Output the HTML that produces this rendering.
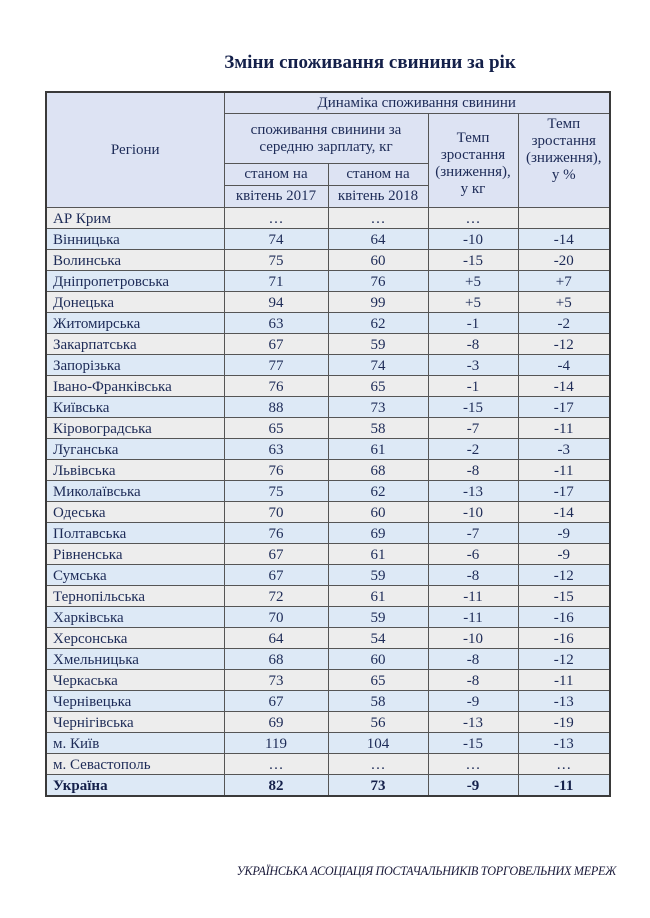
<!DOCTYPE html>
<html><head><meta charset="utf-8"><style>
body{margin:0;width:650px;height:918px;background:#fff;position:relative;font-family:"Liberation Serif",serif;color:#1d2b57;overflow:hidden}
.title{position:absolute;left:0;width:740px;top:52px;text-align:center;font-weight:bold;font-size:19px;color:#14204a}
table{position:absolute;left:45px;top:91px;border-collapse:collapse;border:2px solid #3a3a3a;font-size:15px}
td{border:1px solid #555;padding:0;text-align:center;line-height:17px}
.h td{background:#dde3f3}
tr.d td{height:19px;padding-top:1px;line-height:16px}
tr.g td{background:#ededed}
tr.b td{background:#dde9f6}
td.r{text-align:left;padding-left:6px}
tr.u td{font-weight:bold;color:#14204a}
.foot{position:absolute;right:34px;top:864px;font-style:italic;font-size:12.2px;color:#1a1a3a;letter-spacing:-0.3px}
</style></head><body>
<div class="title">Зміни споживання свинини за рік</div>
<table>
<colgroup><col style="width:178px"><col style="width:104px"><col style="width:100px"><col style="width:90px"><col style="width:92px"></colgroup>
<tr class="h"><td rowspan="4" style="height:114px">Регіони</td><td colspan="4" style="height:20px">Динаміка споживання свинини</td></tr>
<tr class="h"><td colspan="2" style="height:49px">споживання свинини за<br>середню зарплату, кг</td><td rowspan="3" style="padding-top:6px">Темп<br>зростання<br>(зниження),<br>у кг</td><td rowspan="3" style="vertical-align:top;padding-top:2px">Темп<br>зростання<br>(зниження),<br>у %</td></tr>
<tr class="h"><td style="height:21px">станом на</td><td>станом на</td></tr>
<tr class="h"><td style="height:21px">квітень 2017</td><td>квітень 2018</td></tr>
<tr class="d g"><td class="r">АР Крим</td><td>…</td><td>…</td><td>…</td><td></td></tr>
<tr class="d b"><td class="r">Вінницька</td><td>74</td><td>64</td><td>-10</td><td>-14</td></tr>
<tr class="d g"><td class="r">Волинська</td><td>75</td><td>60</td><td>-15</td><td>-20</td></tr>
<tr class="d b"><td class="r">Дніпропетровська</td><td>71</td><td>76</td><td>+5</td><td>+7</td></tr>
<tr class="d g"><td class="r">Донецька</td><td>94</td><td>99</td><td>+5</td><td>+5</td></tr>
<tr class="d b"><td class="r">Житомирська</td><td>63</td><td>62</td><td>-1</td><td>-2</td></tr>
<tr class="d g"><td class="r">Закарпатська</td><td>67</td><td>59</td><td>-8</td><td>-12</td></tr>
<tr class="d b"><td class="r">Запорізька</td><td>77</td><td>74</td><td>-3</td><td>-4</td></tr>
<tr class="d g"><td class="r">Івано-Франківська</td><td>76</td><td>65</td><td>-1</td><td>-14</td></tr>
<tr class="d b"><td class="r">Київська</td><td>88</td><td>73</td><td>-15</td><td>-17</td></tr>
<tr class="d g"><td class="r">Кіровоградська</td><td>65</td><td>58</td><td>-7</td><td>-11</td></tr>
<tr class="d b"><td class="r">Луганська</td><td>63</td><td>61</td><td>-2</td><td>-3</td></tr>
<tr class="d g"><td class="r">Львівська</td><td>76</td><td>68</td><td>-8</td><td>-11</td></tr>
<tr class="d b"><td class="r">Миколаївська</td><td>75</td><td>62</td><td>-13</td><td>-17</td></tr>
<tr class="d g"><td class="r">Одеська</td><td>70</td><td>60</td><td>-10</td><td>-14</td></tr>
<tr class="d b"><td class="r">Полтавська</td><td>76</td><td>69</td><td>-7</td><td>-9</td></tr>
<tr class="d g"><td class="r">Рівненська</td><td>67</td><td>61</td><td>-6</td><td>-9</td></tr>
<tr class="d b"><td class="r">Сумська</td><td>67</td><td>59</td><td>-8</td><td>-12</td></tr>
<tr class="d g"><td class="r">Тернопільська</td><td>72</td><td>61</td><td>-11</td><td>-15</td></tr>
<tr class="d b"><td class="r">Харківська</td><td>70</td><td>59</td><td>-11</td><td>-16</td></tr>
<tr class="d g"><td class="r">Херсонська</td><td>64</td><td>54</td><td>-10</td><td>-16</td></tr>
<tr class="d b"><td class="r">Хмельницька</td><td>68</td><td>60</td><td>-8</td><td>-12</td></tr>
<tr class="d g"><td class="r">Черкаська</td><td>73</td><td>65</td><td>-8</td><td>-11</td></tr>
<tr class="d b"><td class="r">Чернівецька</td><td>67</td><td>58</td><td>-9</td><td>-13</td></tr>
<tr class="d g"><td class="r">Чернігівська</td><td>69</td><td>56</td><td>-13</td><td>-19</td></tr>
<tr class="d b"><td class="r">м. Київ</td><td>119</td><td>104</td><td>-15</td><td>-13</td></tr>
<tr class="d g"><td class="r">м. Севастополь</td><td>…</td><td>…</td><td>…</td><td>…</td></tr>
<tr class="d b u"><td class="r">Україна</td><td>82</td><td>73</td><td>-9</td><td>-11</td></tr>
</table>
<div class="foot">УКРАЇНСЬКА АСОЦІАЦІЯ ПОСТАЧАЛЬНИКІВ ТОРГОВЕЛЬНИХ МЕРЕЖ</div>
</body></html>
